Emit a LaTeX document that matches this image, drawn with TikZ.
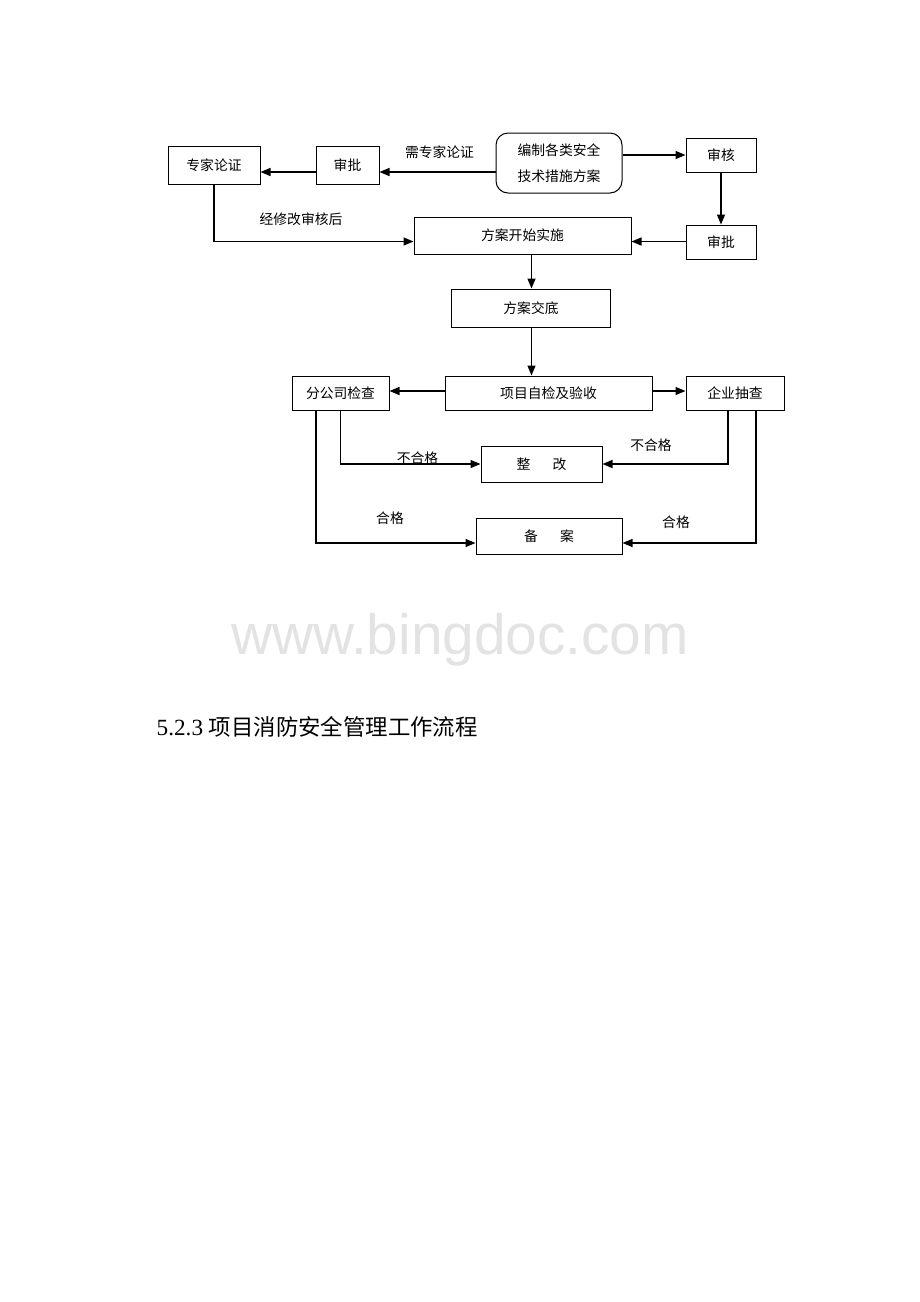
\documentclass[tikz,border=0pt]{standalone}
\usepackage{fontspec}
\setmainfont{Liberation Serif}
\newfontfamily\cjk{Noto Sans CJK SC}
\newfontfamily\marksans{Liberation Sans}
\usetikzlibrary{arrows.meta}

\begin{document}
\begin{tikzpicture}[
	x=0.5pt, y=-0.5pt,
	>={Triangle[length=5pt,width=4pt]},
	line width=0.7pt,
	box/.style={draw,rectangle,line width=0.5pt,inner sep=0,align=center,font=\cjk\fontsize{6.9}{13}\selectfont},
	roundbox/.style={box,rounded corners=6pt},
	tag/.style={inner sep=0,font=\cjk\fontsize{6.9}{8}\selectfont}
	]
	\useasboundingbox (0,0) rectangle (920,1302);
	% top row
	\node [box,minimum width=46pt,minimum height=19pt] (zhuanjia) at (214,165) {专家论证};
	\node [box,minimum width=31.5pt,minimum height=19pt] (shenpiA) at (347.5,165) {审批};
	\node [roundbox,minimum width=63pt,minimum height=30pt] (bianzhi) at (559,163) {编制各类安全\\技术措施方案};
	\node [box,minimum width=35pt,minimum height=17pt] (shenhe) at (721,155) {审核};
	\node [box,minimum width=35pt,minimum height=17pt] (shenpiB) at (721,242) {审批};
	\node [box,minimum width=108.5pt,minimum height=18.5pt] (kaishi) at (522.5,235.5) {方案开始实施};
	\node [box,minimum width=79.5pt,minimum height=19pt] (jiaodi) at (531,308) {方案交底};
	% checks
	\node [box,minimum width=103.5pt,minimum height=17pt] (zijian) at (548.5,393) {项目自检及验收};
	\node [box,minimum width=48.5pt,minimum height=17pt] (fengongsi) at (340.5,393) {分公司检查};
	\node [box,minimum width=49pt,minimum height=17pt] (qiye) at (735,393) {企业抽查};
	\node [box,minimum width=60.5pt,minimum height=18pt] (zhenggai) at (541.5,464) {整\hspace{1.6em}改};
	\node [box,minimum width=73pt,minimum height=18pt] (beian) at (549,536) {备\hspace{1.6em}案};
	% levels of the connectors
	\coordinate (rowA) at (0,172);
	\coordinate (rowB) at (0,241.5);
	\coordinate (rowD) at (0,391);
	\coordinate (rowF) at (0,543);
	\coordinate (colA) at (531.5,0);
	\coordinate (colB) at (316,0);
	\coordinate (colC) at (728,0);
	\coordinate (colD) at (756,0);
	\draw[->] (shenpiA.west |- rowA) -- (zhuanjia.east |- rowA);
	\draw[->] (bianzhi.west |- rowA) -- (shenpiA.east |- rowA);
	\node [tag] (xuzhuanjia) at (439.5,152) {需专家论证};
	\draw[->] (bianzhi.east |- shenhe.west) -- (shenhe.west);
	\draw[->] (shenhe) -- (shenpiB);
	\draw[->] (shenpiB.west |- rowB) -- (kaishi.east |- rowB);
	\draw[->] (zhuanjia.south) |- (kaishi.west |- rowB);
	\node [tag] (xiugai) at (301,219) {经修改审核后};
	\draw[->] (kaishi.south -| colA) -- (jiaodi.north -| colA);
	\draw[->] (jiaodi.south -| colA) -- (zijian.north -| colA);
	\draw[->] (zijian.west |- rowD) -- (fengongsi.east |- rowD);
	\draw[->] (zijian.east |- rowD) -- (qiye.west |- rowD);
	\draw[->] (fengongsi.south) |- (zhenggai.west);
	\draw[->] (qiye.south -| colC) |- (zhenggai.east);
	\node [tag] (buhegeA) at (417.5,458) {不合格};
	\node [tag] (buhegeB) at (651,445) {不合格};
	\draw[->] (fengongsi.south -| colB) |- (beian.west |- rowF);
	\draw[->] (qiye.south -| colD) |- (beian.east |- rowF);
	\node [tag] (hegeA) at (390,518) {合格};
	\node [tag] (hegeB) at (676,522.5) {合格};
	% watermark and heading
	\node [inner sep=0,anchor=base,text=black!11,font=\marksans\fontsize{28.4}{30}\selectfont] (mark) at (460,654) {www.bingdoc.com};
	\node [inner sep=0,anchor=base west,font=\fontsize{11.6}{13}\selectfont] (heading) at (156,735) {5.2.3 {\cjk\fontsize{11.2}{13}\selectfont 项目消防安全管理工作流程}};
\end{tikzpicture}
\end{document}
